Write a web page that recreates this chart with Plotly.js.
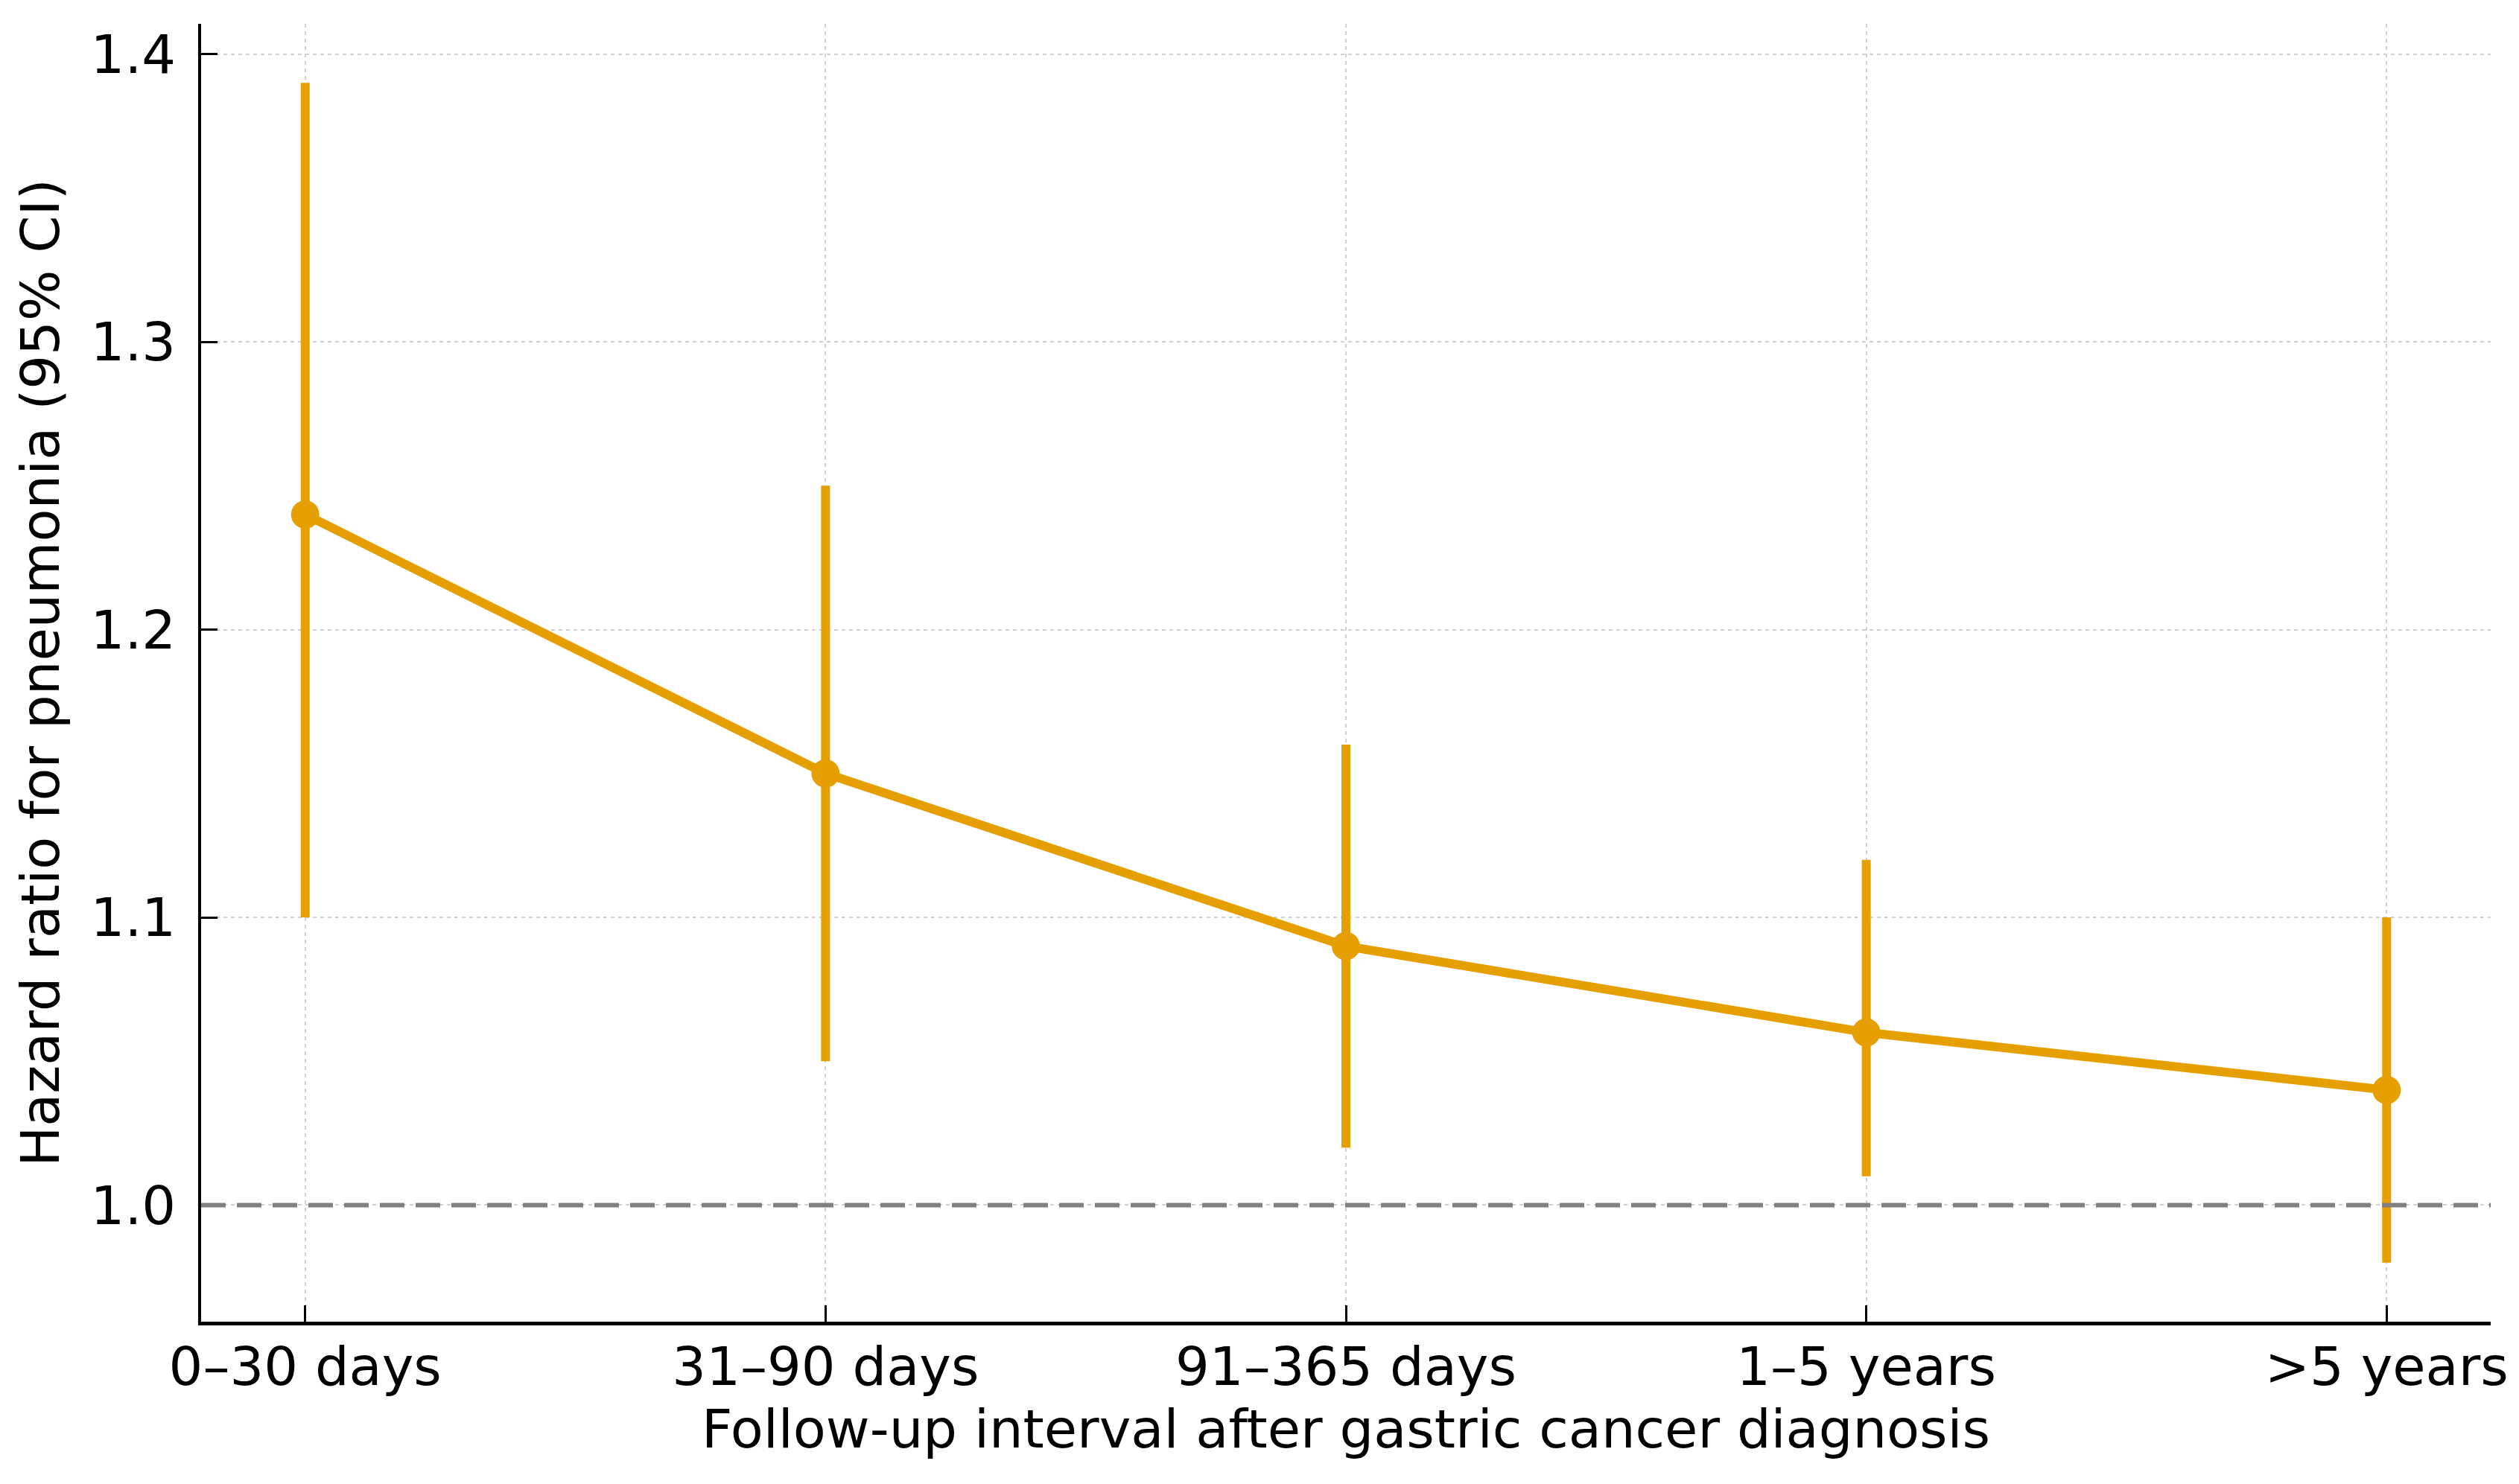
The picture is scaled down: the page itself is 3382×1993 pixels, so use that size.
<!DOCTYPE html>
<html>
<head>
<meta charset="utf-8">
<script src="https://cdn.plot.ly/plotly-3.0.1.min.js"></script>
<style>html,body{margin:0;padding:0;background:#fff;}#chart{width:3382px;height:1993px;}</style>
</head>
<body>
<div id="chart"></div>
<script>
const categories = ["0–30 days", "31–90 days", "91–365 days", "1–5 years", ">5 years"];
const hr = [1.24, 1.15, 1.09, 1.06, 1.04];
const ciLower = [1.10, 1.05, 1.02, 1.01, 0.98];
const ciUpper = [1.39, 1.25, 1.16, 1.12, 1.10];
const yTicks = [1.0, 1.1, 1.2, 1.3, 1.4];
const yTickLabels = ["1.0", "1.1", "1.2", "1.3", "1.4"];
const referenceLine = 1.0;

const orange = "#E69F00";
const font = "DejaVu Sans, sans-serif";

const trace = {
  x: categories,
  y: hr,
  type: "scatter",
  mode: "lines+markers",
  line: {color: orange, width: 12},
  marker: {color: orange, size: 38},
  error_y: {
    type: "data",
    symmetric: false,
    array: hr.map((v, i) => ciUpper[i] - v),
    arrayminus: hr.map((v, i) => v - ciLower[i]),
    color: orange,
    thickness: 12,
    width: 0
  },
  showlegend: false
};

const layout = {
  width: 3382,
  height: 1993,
  margin: {l: 270, r: 38, t: 32, b: 218},
  paper_bgcolor: "#fff",
  plot_bgcolor: "#fff",
  font: {family: font, size: 72, color: "#000"},
  xaxis: {
    type: "category",
    range: [-0.2, 4.2],
    showline: true, linecolor: "#000", linewidth: 4.5,
    ticks: "inside", ticklen: 22, tickwidth: 3, tickcolor: "#000",
    ticklabelstandoff: -6,
    showgrid: true, gridcolor: "#d0d0d0", gridwidth: 2, griddash: "5px,5px",
    zeroline: false,
    tickfont: {family: font, size: 72, color: "#000"},
    title: {text: "Follow-up interval after gastric cancer diagnosis", font: {family: font, size: 72, color: "#000"}, standoff: 18}
  },
  yaxis: {
    range: [0.9595, 1.4105],
    tickvals: yTicks, ticktext: yTickLabels,
    showline: true, linecolor: "#000", linewidth: 4.5,
    ticks: "inside", ticklen: 22, tickwidth: 3, tickcolor: "#000",
    ticklabelstandoff: 15,
    showgrid: true, gridcolor: "#d0d0d0", gridwidth: 2, griddash: "5px,5px",
    zeroline: false,
    tickfont: {family: font, size: 72, color: "#000"},
    title: {text: "Hazard ratio for pneumonia (95% CI)", font: {family: font, size: 72, color: "#000"}, standoff: 20}
  },
  shapes: [{
    type: "line", xref: "paper", x0: 0, x1: 1, yref: "y", y0: referenceLine, y1: referenceLine,
    line: {color: "#808080", width: 6, dash: "33px,15px"}
  }]
};

Plotly.newPlot("chart", [trace], layout, {displayModeBar: false, staticPlot: true});
</script>
</body>
</html>
